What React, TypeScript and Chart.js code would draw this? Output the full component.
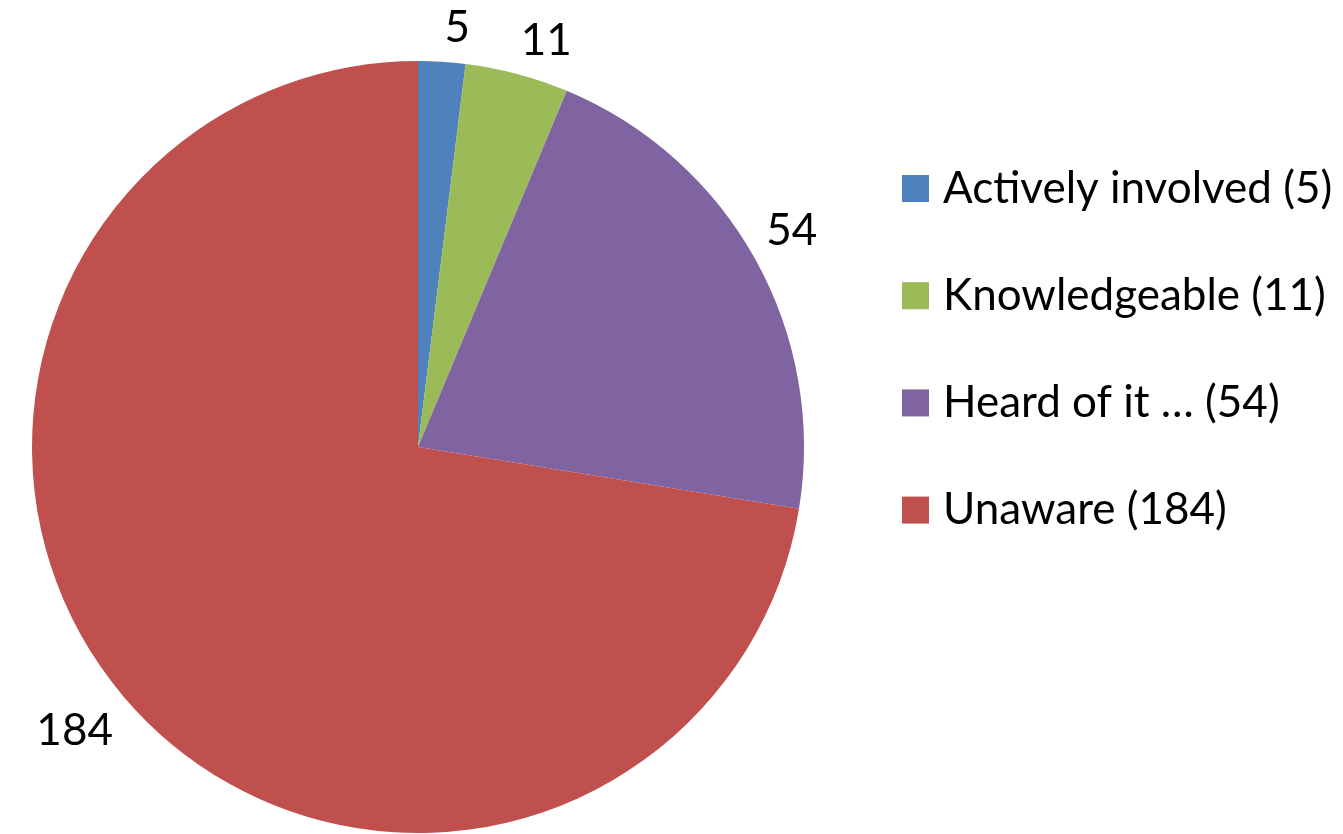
import React, { useEffect, useRef } from "react";
import { Chart, registerables } from "chart.js";

Chart.register(...registerables);

const categories = ["Actively involved", "Knowledgeable", "Heard of it \u2026", "Unaware"];
const values = [5, 11, 54, 184];
const colors = ["#4F81BD", "#9BBB59", "#8064A2", "#C0504D"];
const legendLabels = categories.map((c, i) => `${c} (${values[i]})`);

const FONT = "Lato, 'Open Sans', sans-serif";
const FONT_SIZE = 44;

const labelPlugin = {
  id: "outsideLabelsAndLegend",
  afterDraw(chart: any) {
    const ctx = chart.ctx as CanvasRenderingContext2D;
    const meta = chart.getDatasetMeta(0);
    ctx.save();
    ctx.font = `${FONT_SIZE}px ${FONT}`;
    ctx.fillStyle = "#000000";
    ctx.textAlign = "left";
    ctx.textBaseline = "alphabetic";
    const gap = 10;
    const padX = 4;
    const padY = 9.5;
    meta.data.forEach((arc: any, i: number) => {
      const p = arc.getProps(["x", "y", "startAngle", "endAngle", "outerRadius"], true);
      const mid = (p.startAngle + p.endAngle) / 2;
      const text = String(values[i]);
      const m = ctx.measureText(text);
      const c = Math.cos(mid);
      const s = Math.sin(mid);
      const ax = p.x + c * (p.outerRadius + gap);
      const ay = p.y + s * (p.outerRadius + gap);
      const x = c >= 0 ? ax + padX + m.actualBoundingBoxLeft : ax - padX - m.actualBoundingBoxRight;
      const y = s <= 0 ? ay - padY : ay + padY + m.actualBoundingBoxAscent;
      ctx.fillText(text, x, y);
    });

    // legend
    const box = 27;
    const boxX = 902;
    const firstCenter = 188.5;
    const step = 107.2;
    const textX = 943;
    ctx.textBaseline = "middle";
    ctx.textAlign = "left";
    legendLabels.forEach((lbl, i) => {
      const cy = firstCenter + i * step;
      ctx.fillStyle = colors[i];
      ctx.fillRect(boxX, cy - box / 2, box, box);
      ctx.fillStyle = "#000000";
      ctx.fillText(lbl, textX, cy);
    });
    ctx.restore();
  },
};

export default function App() {
  const ref = useRef<HTMLCanvasElement>(null);
  useEffect(() => {
    document.body.style.margin = "0";
    const chart = new Chart(ref.current as HTMLCanvasElement, {
      type: "pie",
      data: {
        labels: legendLabels,
        datasets: [
          {
            data: values,
            backgroundColor: colors,
            borderWidth: 0,
          },
        ],
      },
      options: {
        responsive: false,
        maintainAspectRatio: false,
        animation: false,
        devicePixelRatio: 1,
        layout: { padding: { left: 32, right: 539, top: 61, bottom: 1 } },
        plugins: {
          legend: { display: false },
          tooltip: { enabled: false },
        },
      },
      plugins: [labelPlugin],
    });
    return () => chart.destroy();
  }, []);
  return (
    <div style={{ width: 1343, height: 834 }}>
      <canvas ref={ref} width={1343} height={834} style={{ display: "block" }} />
    </div>
  );
}
